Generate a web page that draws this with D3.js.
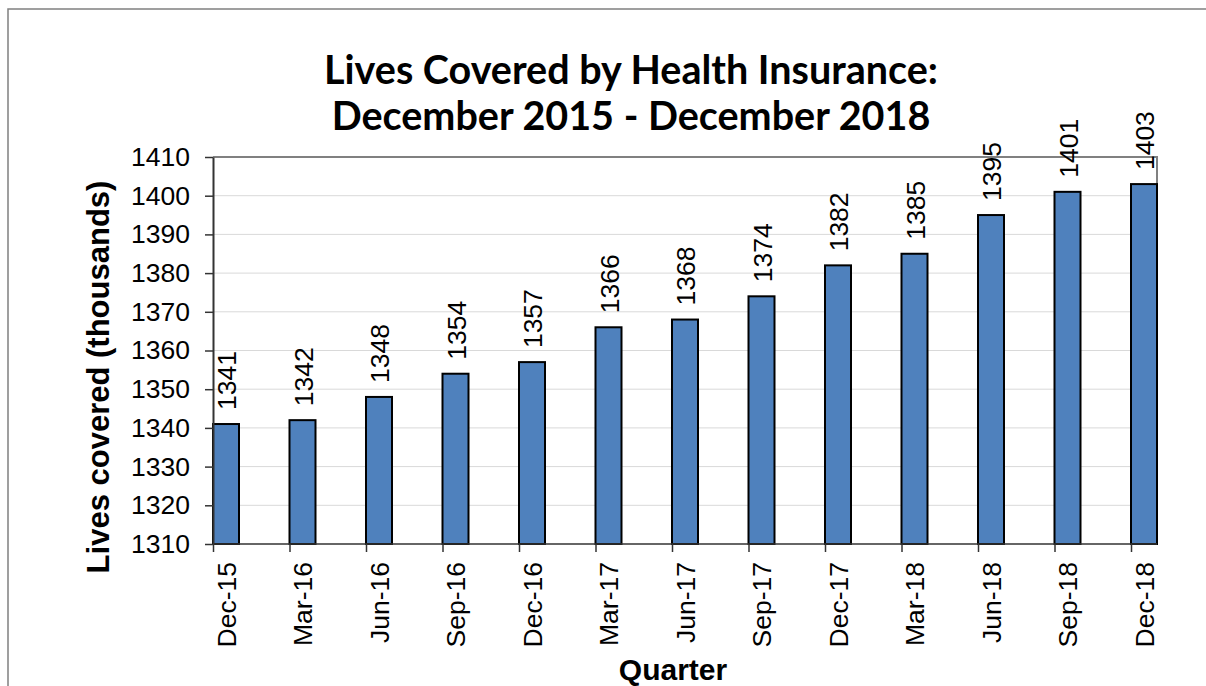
<!DOCTYPE html>
<html>
<head>
<meta charset="utf-8">
<script src="https://cdn.jsdelivr.net/npm/d3@7"></script>
<style>
  html, body { margin: 0; padding: 0; background: #fff; }
  svg { display: block; }
</style>
</head>
<body>
<svg id="chart" width="1206" height="686"></svg>
<script>
const categories = ["Dec-15","Mar-16","Jun-16","Sep-16","Dec-16","Mar-17","Jun-17","Sep-17","Dec-17","Mar-18","Jun-18","Sep-18","Dec-18"];
const values = [1341,1342,1348,1354,1357,1366,1368,1374,1382,1385,1395,1401,1403];
const yTicks = [1310,1320,1330,1340,1350,1360,1370,1380,1390,1400,1410];
const titleLines = ["Lives Covered by Health Insurance:", "December 2015 - December 2018"];
const yTitle = "Lives covered (thousands)";
const xTitle = "Quarter";

const svg = d3.select("#chart");
const W = 1206, H = 686;
const plot = { left: 213, top: 157, right: 1157, bottom: 544 };
const barW = 26;
const labelFont = "Liberation Sans, Arial, sans-serif";

// outer chart border
svg.append("rect").attr("x", 8).attr("y", 9).attr("width", W + 20).attr("height", H + 20)
  .attr("fill", "#fff").attr("stroke", "#808080").attr("stroke-width", 1.5);

const y = d3.scaleLinear().domain([1310, 1410]).range([plot.bottom, plot.top]);
const x = d3.scalePoint().domain(categories).range([plot.left, plot.right - barW]);

// gridlines
svg.append("g").selectAll("line").data(yTicks.filter(t => t > 1310 && t < 1410)).join("line")
  .attr("x1", plot.left).attr("x2", plot.right)
  .attr("y1", d => y(d)).attr("y2", d => y(d))
  .attr("stroke", "#d9d9d9").attr("stroke-width", 1);

// plot area border (top & right)
svg.append("path")
  .attr("d", `M${plot.left},${y(1410)}H${plot.right}V${plot.bottom}`)
  .attr("fill", "none").attr("stroke", "#808080").attr("stroke-width", 2);

// bars
svg.append("g").selectAll("rect").data(values).join("rect")
  .attr("x", (d, i) => x(categories[i]))
  .attr("y", d => y(d))
  .attr("width", barW)
  .attr("height", d => y(1310) - y(d))
  .attr("fill", "#4f81bd").attr("stroke", "#000").attr("stroke-width", 2);

// value labels
svg.append("g").selectAll("text").data(values).join("text")
  .attr("transform", (d, i) => `translate(${x(categories[i]) + barW / 2 + 1},${y(d) - 14}) rotate(-90)`)
  .attr("dy", "0.35em")
  .attr("text-anchor", "start")
  .attr("font-family", labelFont)
  .attr("font-size", 26.5)
  .attr("fill", "#000")
  .text(d => d);

// y axis
const yAxis = d3.axisLeft(y).tickValues(yTicks).tickSize(8).tickSizeOuter(0).tickPadding(15).tickFormat(d3.format("d"));
const gy = svg.append("g").attr("transform", `translate(${plot.left},0)`).call(yAxis);
gy.select(".domain").attr("stroke", "#333").attr("stroke-width", 2);
gy.selectAll(".tick line").attr("stroke", "#333").attr("stroke-width", 1.5);
gy.selectAll(".tick text").attr("font-family", labelFont).attr("font-size", 26.5).attr("fill", "#000");

// x axis
const xAxis = d3.axisBottom(x).tickSize(8).tickSizeOuter(0).tickFormat(d => d);
const gx = svg.append("g").attr("transform", `translate(0,${plot.bottom})`).call(xAxis);
gx.select(".domain").remove();
gx.append("line").attr("x1", plot.left).attr("x2", plot.right).attr("y1", 0).attr("y2", 0)
  .attr("stroke", "#333").attr("stroke-width", 1.5);
gx.selectAll(".tick line").attr("stroke", "#333").attr("stroke-width", 1.5);
gx.selectAll(".tick text")
  .attr("font-family", labelFont).attr("font-size", 26.5).attr("fill", "#000")
  .attr("text-anchor", "end")
  .attr("y", null).attr("dy", "0.35em")
  .attr("transform", `translate(${barW / 2},18) rotate(-90)`);

// title
const title = svg.append("text").attr("text-anchor", "middle")
  .attr("font-family", "Lato, Carlito, Calibri, sans-serif").attr("font-weight", "bold")
  .attr("font-size", 39.5).attr("fill", "#000");
titleLines.forEach((t, i) => {
  title.append("tspan").attr("x", 631).attr("y", 84 + i * 46).text(t);
});

// y title
svg.append("text")
  .attr("transform", `translate(109,377) rotate(-90)`)
  .attr("text-anchor", "middle")
  .attr("font-family", labelFont).attr("font-weight", "bold")
  .attr("font-size", 31).attr("fill", "#000")
  .text(yTitle);

// x title
svg.append("text")
  .attr("x", 673).attr("y", 680)
  .attr("text-anchor", "middle")
  .attr("font-family", labelFont).attr("font-weight", "bold")
  .attr("font-size", 30).attr("fill", "#000")
  .text(xTitle);
</script>
</body>
</html>
